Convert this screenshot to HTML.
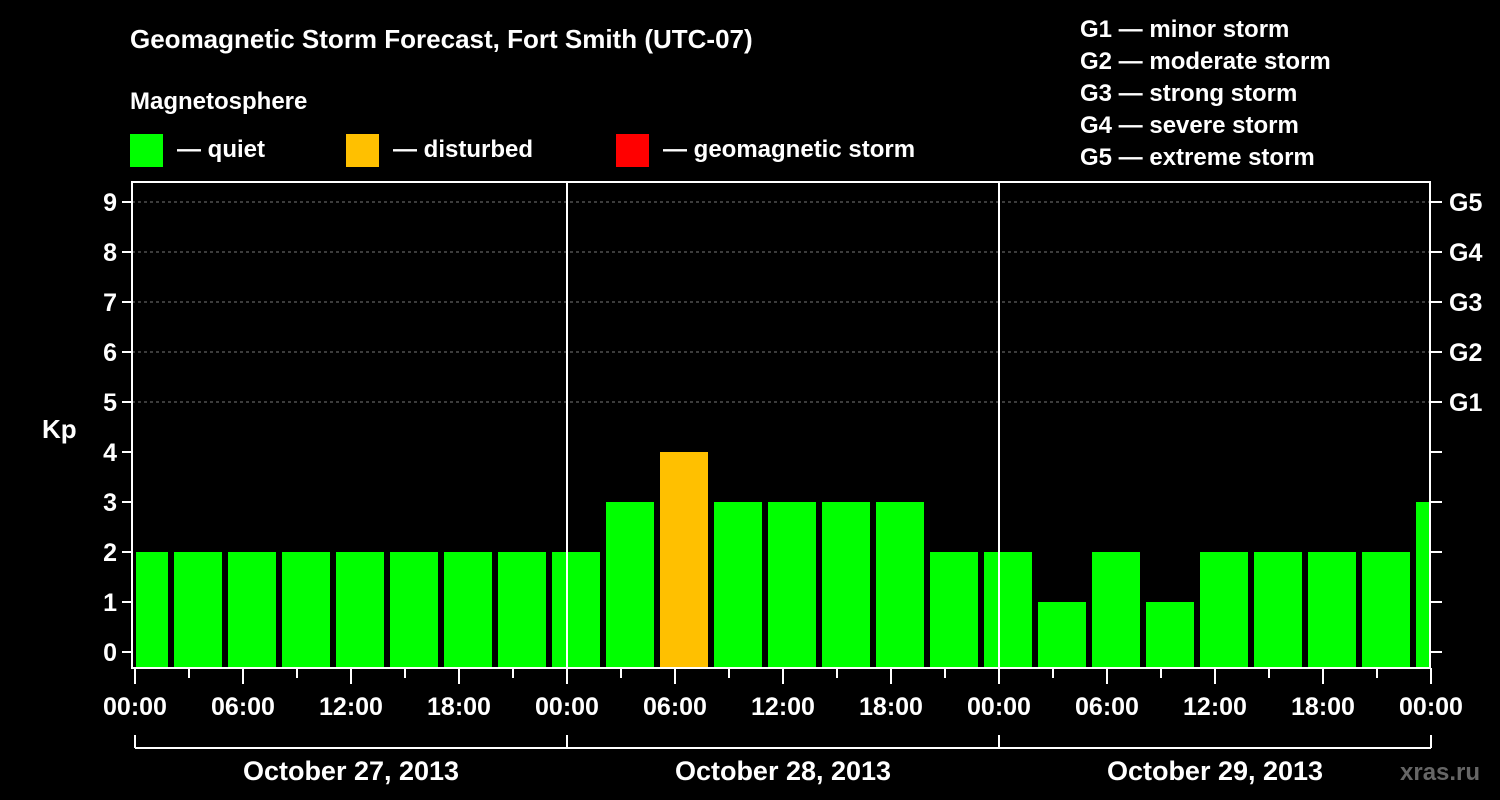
<!DOCTYPE html>
<html><head><meta charset="utf-8"><style>
html,body{margin:0;padding:0;background:#000;}
svg{display:block;font-family:"Liberation Sans",Arial,sans-serif;font-weight:bold;}
</style></head><body>
<svg id="chart" width="1500" height="800" viewBox="0 0 1500 800">
<text x="130" y="48" fill="#fff" font-size="26">Geomagnetic Storm Forecast, Fort Smith (UTC-07)</text>
<text x="130" y="109" fill="#fff" font-size="24">Magnetosphere</text>
<g><rect x="130" y="134" width="33" height="33" fill="#00ff00"/><text x="177" y="157" fill="#fff" font-size="24">— quiet</text></g>
<g><rect x="346" y="134" width="33" height="33" fill="#ffc000"/><text x="393" y="157" fill="#fff" font-size="24">— disturbed</text></g>
<g><rect x="616" y="134" width="33" height="33" fill="#ff0000"/><text x="663" y="157" fill="#fff" font-size="24">— geomagnetic storm</text></g>
<g fill="#fff" font-size="24">
<text x="1080" y="37">G1 — minor storm</text>
<text x="1080" y="69">G2 — moderate storm</text>
<text x="1080" y="101">G3 — strong storm</text>
<text x="1080" y="133">G4 — severe storm</text>
<text x="1080" y="165">G5 — extreme storm</text>
</g>
<text x="42" y="438" fill="#fff" font-size="26">Kp</text>
<text x="1400" y="780" fill="#666" font-size="24">xras.ru</text>
<g id="grid"></g><g id="bars"></g><g id="axes"></g>
</svg>
<script>
const kpValues=[2,2,2,2,2,2,2,2,2,3,4,3,3,3,3,2,2,1,2,1,2,2,2,2,3];
const yTicks=[0,1,2,3,4,5,6,7,8,9];
const gLabels=["G1","G2","G3","G4","G5"];
const xTickLabels=["00:00","06:00","12:00","18:00","00:00","06:00","12:00","18:00","00:00","06:00","12:00","18:00","00:00"];
const dayLabels=["October 27, 2013","October 28, 2013","October 29, 2013"];
const NS="http://www.w3.org/2000/svg";
const L=132,R=1430,T=182,B=668,X0=135,PXH=18;
const yS=v=>652-v*50;
const xS=h=>X0+h*PXH;
function mk(t,a,p){const e=document.createElementNS(NS,t);for(const k in a)e.setAttribute(k,a[k]);p.appendChild(e);return e;}
const grid=document.getElementById('grid'),bars=document.getElementById('bars'),axes=document.getElementById('axes');
for(let g=5;g<=9;g++){const l=mk('line',{x1:L,x2:R,y1:yS(g),y2:yS(g),stroke:'#777','stroke-dasharray':'3,3'},grid);

}
kpValues.forEach((v,i)=>{const h0=-1+3*i;let x1=xS(h0)+3,x2=xS(h0+3)-3;x1=Math.max(x1,L+4);x2=Math.min(x2,R);
const c=v>=5?'#ff0000':(v>=4?'#ffc000':'#00ff00');
const r=mk('rect',{x:x1,y:yS(v),width:x2-x1,height:B-yS(v),fill:c},bars);

});
[1,2].forEach(d=>{const l=mk('line',{x1:xS(24*d),x2:xS(24*d),y1:T,y2:B,stroke:'#fff','stroke-width':2},axes);

});
const f=mk('rect',{x:L,y:T,width:R-L,height:B-T,fill:'none',stroke:'#fff','stroke-width':2},axes);


yTicks.forEach(v=>{mk('line',{x1:122,x2:L,y1:yS(v),y2:yS(v),stroke:'#fff','stroke-width':2},axes);
mk('line',{x1:R,x2:1442,y1:yS(v),y2:yS(v),stroke:'#fff','stroke-width':2},axes);
const t=mk('text',{x:117,y:yS(v)+9,fill:'#fff','font-size':25,'text-anchor':'end'},axes);t.textContent=v;

});
gLabels.forEach((g,i)=>{const t=mk('text',{x:1449,y:yS(5+i)+9,fill:'#fff','font-size':25},axes);t.textContent=g;

});
for(let h=0;h<=72;h+=3){const maj=h%6===0;mk('line',{x1:xS(h),x2:xS(h),y1:B,y2:B+(maj?16:10),stroke:'#fff','stroke-width':2},axes);}
xTickLabels.forEach((s,i)=>{const t=mk('text',{x:xS(6*i),y:715,fill:'#fff','font-size':25,'text-anchor':'middle'},axes);t.textContent=s;

});
mk('line',{x1:xS(0),x2:xS(72),y1:748,y2:748,stroke:'#fff','stroke-width':2},axes);
for(let d=0;d<=3;d++)mk('line',{x1:xS(24*d),x2:xS(24*d),y1:735,y2:748,stroke:'#fff','stroke-width':2},axes);
dayLabels.forEach((s,i)=>{const t=mk('text',{x:xS(24*i+12),y:780,fill:'#fff','font-size':27,'text-anchor':'middle'},axes);t.textContent=s;

});
</script>
</body></html>
